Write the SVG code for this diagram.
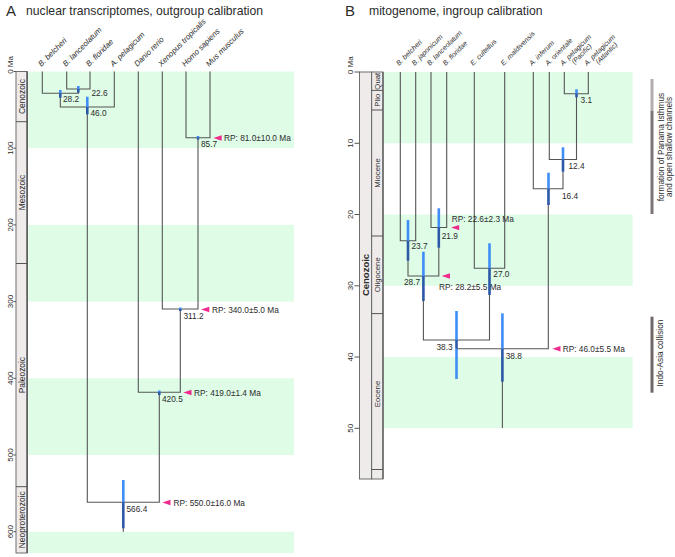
<svg xmlns="http://www.w3.org/2000/svg" width="675" height="557" viewBox="0 0 675 557">
<style>
text{font-family:"Liberation Sans",Arial,sans-serif;fill:#2b2b2b}
.pl{font-size:15px}
.ttl{font-size:12.2px}
.tx{font-size:7.8px;font-style:italic}
.txb{font-size:7px;font-style:italic}
.nl{font-size:8.3px}
.tk{font-size:8px;text-anchor:middle}
.tk0{font-size:8px}
.era{font-size:8.4px;text-anchor:middle}
.ep{font-size:7.8px;text-anchor:middle}
.eb{font-size:9.5px;font-weight:bold;text-anchor:middle}
.an{font-size:8.3px;text-anchor:middle}
.band{fill:#dffce7}
.col{fill:#efebeb;stroke:#5f5f5f;stroke-width:0.9}
.tick{stroke:#555;stroke-width:1}
.br{stroke:#555;stroke-width:1.1;fill:none}
.hl{fill:#3e8ef5}
.hd{fill:#2c5aa8}
.rp{fill:#ef2a8c}
</style>

<g id="titles">
<text class="pl" x="6" y="15.5">A</text>
<text class="ttl" x="26" y="14.5">nuclear transcriptomes, outgroup calibration</text>
<text class="pl" x="345" y="15.5">B</text>
<text class="ttl" x="369" y="14.5">mitogenome, ingroup calibration</text>
</g>

<g id="bands">
<rect class="band" x="28.3" y="71.5" width="265.7" height="76.7"/>
<rect class="band" x="28.3" y="224.9" width="265.7" height="76.7"/>
<rect class="band" x="28.3" y="378.3" width="265.7" height="76.7"/>
<rect class="band" x="28.3" y="531.7" width="265.7" height="21.3"/>
<rect class="band" x="383.5" y="72" width="249.2" height="71.3"/>
<rect class="band" x="383.5" y="214.5" width="249.2" height="71.3"/>
<rect class="band" x="383.5" y="357" width="249.2" height="71.3"/>
</g>

<g id="axis-A">
<rect class="col" x="16" y="71.5" width="11" height="481.5"/>
<line x1="27.2" y1="71.5" x2="27.2" y2="553" stroke="#555" stroke-width="1.4"/>
<path class="tick" d="M16,121.7H27M16,263.5H27M16,486.7H27"/>
<path class="tick" d="M13.5,71.5H16M13.5,148.2H16M13.5,224.9H16M13.5,301.6H16M13.5,378.3H16M13.5,455H16M13.5,531.7H16"/>
<text class="tk0" transform="translate(12.5,73.8) rotate(-90)">0 Ma</text>
<text class="tk" transform="translate(12.5,148.2) rotate(-90)">100</text>
<text class="tk" transform="translate(12.5,224.9) rotate(-90)">200</text>
<text class="tk" transform="translate(12.5,301.6) rotate(-90)">300</text>
<text class="tk" transform="translate(12.5,378.3) rotate(-90)">400</text>
<text class="tk" transform="translate(12.5,455) rotate(-90)">500</text>
<text class="tk" transform="translate(12.5,531.7) rotate(-90)">600</text>
<text class="era" transform="translate(25,96.6) rotate(-90)">Cenozoic</text>
<text class="era" transform="translate(25,192.6) rotate(-90)">Mesozoic</text>
<text class="era" transform="translate(25,375.1) rotate(-90)">Paleozoic</text>
<text class="era" transform="translate(25,519.8) rotate(-90)">Neoproterozoic</text>
</g>

<g id="axis-B">
<rect class="col" x="359.5" y="72" width="12.2" height="407"/>
<rect class="col" x="371.7" y="72" width="11.3" height="407"/>
<line x1="383" y1="72" x2="383" y2="479" stroke="#555" stroke-width="1.2"/>
<path class="tick" d="M371.7,90.4H383M371.7,110H383M371.7,236H383M371.7,313.6H383M371.7,469.5H383"/>
<path class="tick" d="M354.5,72H359.5M354.5,143.3H359.5M354.5,214.5H359.5M354.5,285.8H359.5M354.5,357H359.5M354.5,428.3H359.5"/>
<text class="tk0" transform="translate(352.5,74.2) rotate(-90)">0 Ma</text>
<text class="tk" transform="translate(352.5,143.3) rotate(-90)">10</text>
<text class="tk" transform="translate(352.5,214.5) rotate(-90)">20</text>
<text class="tk" transform="translate(352.5,285.8) rotate(-90)">30</text>
<text class="tk" transform="translate(352.5,357) rotate(-90)">40</text>
<text class="tk" transform="translate(352.5,428.3) rotate(-90)">50</text>
<text class="eb" transform="translate(368.8,275) rotate(-90)">Cenozoic</text>
<text class="ep" transform="translate(380.3,81.2) rotate(-90)">Quat</text>
<text class="ep" transform="translate(380.3,100.2) rotate(-90)">Plio</text>
<text class="ep" transform="translate(380.3,173) rotate(-90)">Miocene</text>
<text class="ep" transform="translate(380.3,274.8) rotate(-90)">Oligocene</text>
<text class="ep" transform="translate(380.3,394) rotate(-90)">Eocene</text>
</g>

<g id="connectors">
<path class="br" d="M66.7,71.5V89H90V71.5M42.3,71.5V93.3H78.3V89M60.3,93.3V107H114.3V71.5M186,71.5V137.7H210V71.5M162.3,71.5V309H198V137.7M138.3,71.5V392.3H180.3V309M87.3,107V502.3H159.3V392.3M123.3,502.3V531.7"/>
<path class="br" d="M400.3,72V240.7H415.7V72M431,72V227.5H446.7V72M474.3,72V268.3H504.7V72M564.3,72V93.7H588.3V72M549.3,72V159.5H576.5V93.7M533.3,72V188.7H563V159.5M408,240.7V276H438.8V227.5M423.4,276V340H489.5V268.3M456.5,340V348.7H548.3V188.7M502.4,348.7V428"/>
</g>

<g id="taxa-A">
<text class="tx" transform="translate(41.3,67) rotate(-45)">B. belcheri</text>
<text class="tx" transform="translate(65.7,67) rotate(-45)">B. lanceolatum</text>
<text class="tx" transform="translate(89,67) rotate(-45)">B. floridae</text>
<text class="tx" transform="translate(113.3,67) rotate(-45)">A. pelagicum</text>
<text class="tx" transform="translate(137.3,67) rotate(-45)">Danio rerio</text>
<text class="tx" transform="translate(161.3,67) rotate(-45)">Xenopus tropicalis</text>
<text class="tx" transform="translate(185,67) rotate(-45)">Homo sapiens</text>
<text class="tx" transform="translate(209,67) rotate(-45)">Mus musculus</text>
</g>

<g id="taxa-B">
<text class="txb" transform="translate(399,66) rotate(-45)">B. belcheri</text>
<text class="txb" transform="translate(414.4,66) rotate(-45)">B. japonicum</text>
<text class="txb" transform="translate(429.7,66) rotate(-45)">B. lanceolatum</text>
<text class="txb" transform="translate(445.4,66) rotate(-45)">B. floridae</text>
<text class="txb" transform="translate(473,66) rotate(-45)">E. cultellus</text>
<text class="txb" transform="translate(503.4,66) rotate(-45)">E. maldivensis</text>
<text class="txb" transform="translate(532,66) rotate(-45)">A. inferum</text>
<text class="txb" transform="translate(548,66) rotate(-45)">A. orientale</text>
<text class="txb" transform="translate(563,66) rotate(-45)"><tspan x="0" y="0">A. pelagicum</tspan><tspan x="9" y="7">(Pacific)</tspan></text>
<text class="txb" transform="translate(587,66) rotate(-45)"><tspan x="0" y="0">A. pelagicum</tspan><tspan x="9" y="7">(Atlantic)</tspan></text>
</g>

<g id="node-A-22.6"><rect class="hl" x="77" y="86" width="2.6" height="3"/><rect class="hd" x="77" y="89" width="2.6" height="3.7"/><text class="nl" x="91.5" y="95.5">22.6</text></g>
<g id="node-A-28.2"><rect class="hl" x="59" y="90" width="2.6" height="3.3"/><rect class="hd" x="59" y="93.3" width="2.6" height="4.4"/><text class="nl" x="63" y="101.5">28.2</text></g>
<g id="node-A-46.0"><rect class="hl" x="86" y="96.7" width="2.6" height="10.3"/><rect class="hd" x="86" y="107" width="2.6" height="7.3"/><text class="nl" x="90.5" y="115.5">46.0</text></g>
<g id="node-A-85.7"><rect class="hl" x="196.7" y="136" width="2.6" height="1.7"/><rect class="hd" x="196.7" y="137.7" width="2.6" height="1.8"/><text class="nl" x="201" y="147">85.7</text>
<path class="rp" d="M213.3,138L221.7,135.3V140.7Z"/><text class="nl" x="224" y="141">RP: 81.0±10.0 Ma</text></g>
<g id="node-A-311.2"><rect class="hl" x="179" y="307.5" width="2.6" height="1.5"/><rect class="hd" x="179" y="309" width="2.6" height="2"/><text class="nl" x="183.5" y="318.5">311.2</text>
<path class="rp" d="M201,309.5L209.3,306.8V312.2Z"/><text class="nl" x="212" y="312.5">RP: 340.0±5.0 Ma</text></g>
<g id="node-A-420.5"><rect class="hl" x="158" y="390.5" width="2.6" height="1.8"/><rect class="hd" x="158" y="392.3" width="2.6" height="2.7"/><text class="nl" x="162" y="402">420.5</text>
<path class="rp" d="M183.3,392.5L191.5,389.8V395.2Z"/><text class="nl" x="194" y="395.5">RP: 419.0±1.4 Ma</text></g>
<g id="node-A-566.4"><rect class="hl" x="122" y="480" width="2.6" height="22.3"/><rect class="hd" x="122" y="502.3" width="2.6" height="26"/><text class="nl" x="126.5" y="512">566.4</text>
<path class="rp" d="M162.3,502.5L170.5,499.8V505.2Z"/><text class="nl" x="173.5" y="506">RP: 550.0±16.0 Ma</text></g>

<g id="node-B-3.1"><rect class="hl" x="575.2" y="89.3" width="2.6" height="4.4"/><rect class="hd" x="575.2" y="93.7" width="2.6" height="3.6"/><text class="nl" x="580.5" y="103">3.1</text></g>
<g id="node-B-12.4"><rect class="hl" x="561.7" y="147.3" width="2.6" height="12.2"/><rect class="hd" x="561.7" y="159.5" width="2.6" height="12.2"/><text class="nl" x="568.5" y="168.5">12.4</text></g>
<g id="node-B-16.4"><rect class="hl" x="547.2" y="172.7" width="2.6" height="16"/><rect class="hd" x="547.2" y="188.7" width="2.6" height="16.3"/><text class="nl" x="562" y="198.5">16.4</text></g>
<g id="node-B-21.9"><rect class="hl" x="437.5" y="208.3" width="2.6" height="19.2"/><rect class="hd" x="437.5" y="227.5" width="2.6" height="20.2"/><text class="nl" x="441.7" y="238.5">21.9</text>
<path class="rp" d="M451,227.6L459.2,224.9V230.3Z"/><text class="nl" x="451.7" y="221.5">RP: 22.6±2.3 Ma</text></g>
<g id="node-B-23.7"><rect class="hl" x="406.7" y="220" width="2.6" height="20.7"/><rect class="hd" x="406.7" y="240.7" width="2.6" height="20"/><text class="nl" x="411.5" y="248.5">23.7</text></g>
<g id="node-B-28.7"><rect class="hl" x="422.1" y="251.7" width="2.6" height="24.3"/><rect class="hd" x="422.1" y="276" width="2.6" height="25"/><text class="nl" x="404" y="285">28.7</text>
<path class="rp" d="M441.7,276L450,273.3V278.7Z"/><text class="nl" x="439" y="289.5">RP: 28.2±5.5 Ma</text></g>
<g id="node-B-27.0"><rect class="hl" x="488.2" y="243.3" width="2.6" height="25"/><rect class="hd" x="488.2" y="268.3" width="2.6" height="26.7"/><text class="nl" x="493.3" y="276.5">27.0</text></g>
<g id="node-B-38.3"><rect class="hl" x="455.2" y="311" width="2.6" height="29"/><rect class="hd" x="455.2" y="340" width="2.6" height="8.7"/><rect class="hl" x="455.2" y="348.7" width="2.6" height="30.3"/><text class="nl" x="436.5" y="349.5">38.3</text></g>
<g id="node-B-38.8"><rect class="hl" x="501.1" y="313.3" width="2.6" height="35.4"/><rect class="hd" x="501.1" y="348.7" width="2.6" height="33"/><text class="nl" x="505.7" y="358.5">38.8</text>
<path class="rp" d="M552.3,348.7L560.5,346V351.4Z"/><text class="nl" x="562.7" y="351.5">RP: 46.0±5.5 Ma</text></g>

<g id="event-panama">
<rect x="650.5" y="79" width="3" height="31.7" fill="#b5adad"/>
<rect x="650.5" y="110.7" width="3" height="103.3" fill="#7d7575"/>
<text class="an" transform="translate(663.5,147) rotate(-90)">formation of Panama Isthmus</text>
<text class="an" transform="translate(672,147) rotate(-90)">and open shallow channels</text>
</g>
<g id="event-indoasia">
<rect x="650.5" y="316.7" width="3" height="76" fill="#706868"/>
<text class="an" transform="translate(663,353) rotate(-90)">Indo-Asia collision</text>
</g>
</svg>
